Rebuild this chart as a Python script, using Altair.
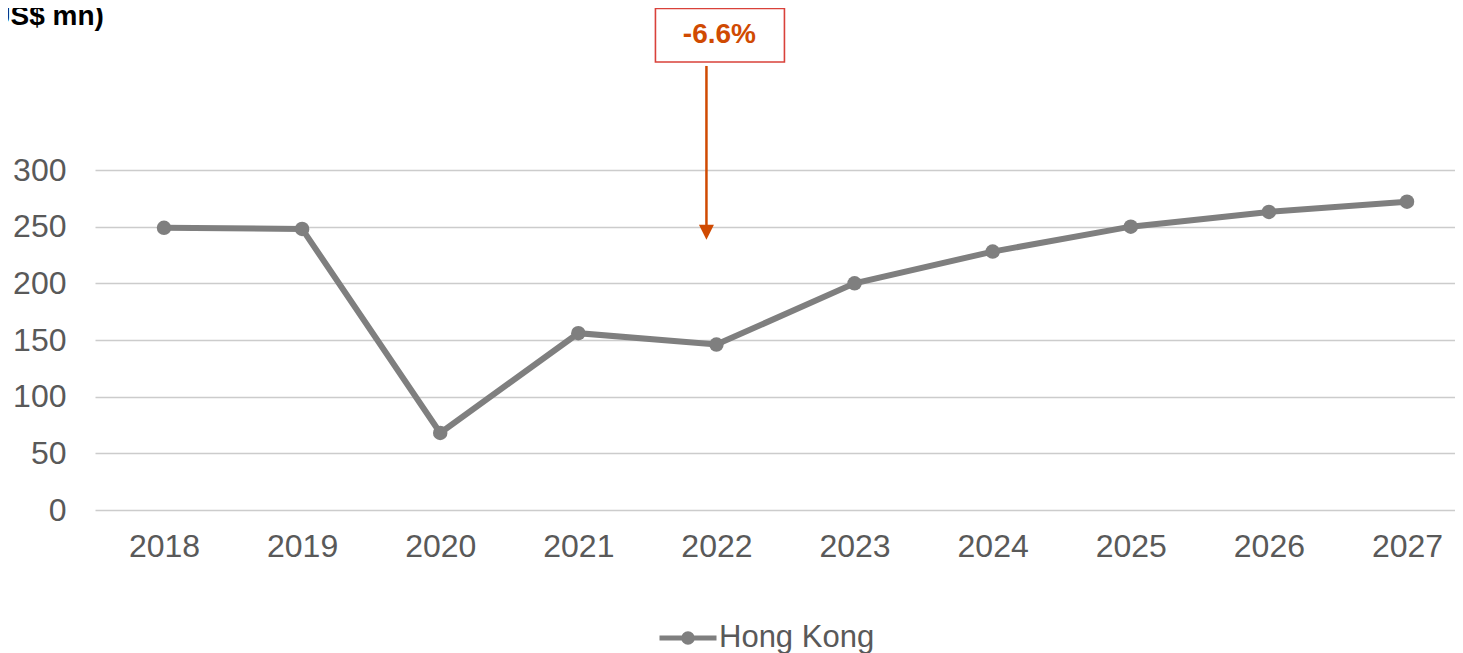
import altair as alt
import pandas as pd

# ---- data ----
years = [2018, 2019, 2020, 2021, 2022, 2023, 2024, 2025, 2026, 2027]
hong_kong = [249, 248, 68, 156, 146, 200, 228, 250, 263, 272]
series_name = "Hong Kong"
unit_label = "(US$ mn)"
y_ticks = [0, 50, 100, 150, 200, 250, 300]
annot_year = [2022]
annot_text = ["-6.6%"]

df = pd.DataFrame({"year": years, "value": hong_kong, "series": [series_name] * len(years)})
ann = pd.DataFrame({"year": annot_year, "label": annot_text})

GRAY = "#7F7F7F"
ORANGE = "#D04A02"
FONT = "Liberation Sans"

x_scale = alt.Scale(domain=[2017.5004, 2027.3476], nice=False, zero=False)
x_enc = alt.X(
    "year:Q",
    scale=x_scale,
    axis=alt.Axis(title=None, values=years, format="d", labelAngle=0, ticks=False, tickSize=0,
                  domain=False, grid=False, labelFlush=False,
                  labelFontSize=32, labelColor="#595959", labelPadding=21, labelFont=FONT),
)
y_enc = alt.Y(
    "value:Q",
    scale=alt.Scale(domain=[0, 300], nice=False, zero=True),
    axis=alt.Axis(title=None, values=y_ticks, ticks=False, tickSize=0, domain=False,
                  gridColor="#CCCCCC", gridWidth=1.3, labelFontSize=32, labelColor="#595959",
                  labelPadding=29, labelFont=FONT),
)

legend_symbol = "M-1,0L1,0M-0.15,0A0.15,0.15,0,1,1,0.15,0A0.15,0.15,0,1,1,-0.15,0Z"

color_enc = alt.Color(
    "series:N",
    scale=alt.Scale(range=[GRAY]),
    legend=alt.Legend(
        orient="none", legendX=562, legendY=437, title=None,
        symbolType=legend_symbol, symbolSize=3249, symbolStrokeWidth=5,
        symbolStrokeColor=GRAY, symbolFillColor=GRAY, symbolOpacity=1,
        labelFontSize=31, labelColor="#595959", labelFont=FONT, labelOffset=0, padding=0,
    ),
)

base = alt.Chart(df)
line = base.mark_line(strokeWidth=6).encode(x=x_enc, y=y_enc, color=color_enc)
points = base.mark_point(filled=True, size=210, opacity=1, color=GRAY).encode(x=x_enc, y=y_enc)

xa = alt.X("year:Q", scale=x_scale)
abase = alt.Chart(ann)
box = abase.mark_rect(fill="white", stroke="#D9413A", strokeWidth=1.6, xOffset=-61, x2Offset=68).encode(
    x=xa, x2=alt.X2("year"), y=alt.datum(442.5), y2=alt.datum(395.3)
)
btext = abase.mark_text(font=FONT, fontSize=28, fontWeight="bold", color=ORANGE, dx=3, baseline="middle").encode(
    x=xa, y=alt.datum(419), text="label:N"
)
arrow = abase.mark_rule(color=ORANGE, strokeWidth=2.5, xOffset=-10).encode(
    x=xa, y=alt.datum(391.8), y2=alt.datum(249)
)
head = abase.mark_point(shape="M-1,-1L1,-1L0,1Z", filled=True, size=225, color=ORANGE, opacity=1, xOffset=-10).encode(
    x=xa, y=alt.datum(245)
)
unit = abase.mark_text(font=FONT, fontSize=28, fontWeight="bold", color="#000000", align="left", baseline="middle").encode(
    x=alt.value(-114), y=alt.value(-153), text=alt.value(unit_label)
)

chart = alt.layer(line, points, box, btext, arrow, head, unit).properties(
    width=1360,
    height=340,
    autosize=alt.AutoSizeParams(type="none"),
    padding={"left": 87, "top": 162, "right": 0, "bottom": 150},
    background="white",
).configure_view(stroke=None)

chart.save("out.html", embed_options={"renderer": "svg", "actions": False})
